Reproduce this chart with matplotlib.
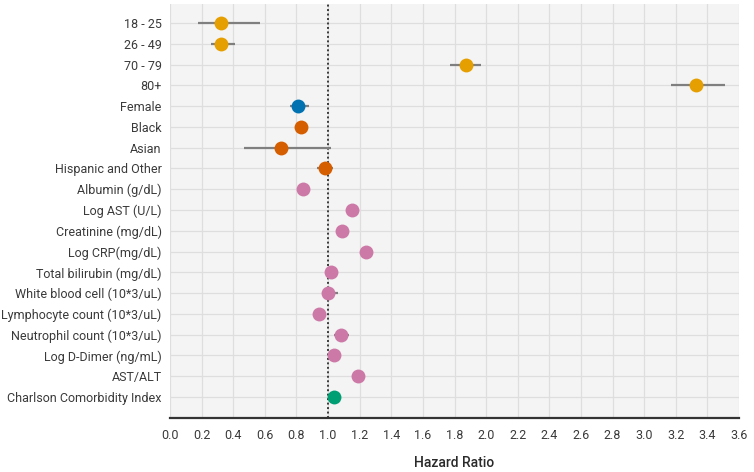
import numpy as np
import matplotlib.pyplot as plt

# Data
labels = ['18 - 25', '26 - 49', '70 - 79', '80+', 'Female', 'Black', 'Asian',
          'Hispanic and Other', 'Albumin (g/dL)', 'Log AST (U/L)',
          'Creatinine (mg/dL)', 'Log CRP(mg/dL)', 'Total bilirubin (mg/dL)',
          'White blood cell (10*3/uL)', 'Lymphocyte count (10*3/uL)',
          'Neutrophil count (10*3/uL)', 'Log D-Dimer (ng/mL)', 'AST/ALT',
          'Charlson Comorbidity Index']
hr = [0.32, 0.32, 1.87, 3.33, 0.81, 0.83, 0.70, 0.98, 0.84, 1.15,
      1.09, 1.24, 1.02, 1.00, 0.94, 1.08, 1.04, 1.19, 1.04]
ci_low = [0.18, 0.26, 1.77, 3.17, 0.76, 0.80, 0.47, 0.93, 0.82, 1.13,
          1.07, 1.22, 0.99, 0.97, 0.92, 1.04, 1.02, 1.17, 1.02]
ci_high = [0.57, 0.41, 1.97, 3.51, 0.88, 0.86, 1.02, 1.03, 0.86, 1.17,
           1.11, 1.26, 1.05, 1.06, 0.96, 1.13, 1.06, 1.21, 1.06]
groups = ['age'] * 4 + ['sex'] + ['race'] * 3 + ['lab'] * 10 + ['comorb']
group_colors = {'age': '#E69F00', 'sex': '#0072B2', 'race': '#D55E00',
                'lab': '#CC79A7', 'comorb': '#009E73'}

plt.rcParams['font.family'] = ['Roboto', 'DejaVu Sans']

fig = plt.figure(figsize=(7.54, 4.72), dpi=100)
ax = fig.add_axes([170 / 754, 1 - 418 / 472, 569 / 754, 414 / 472])
ax.set_facecolor('#F4F4F4')

y = np.arange(len(labels))
ax.hlines(y, ci_low, ci_high, color='#7F7F7F', lw=1.6, zorder=3)
for yi, h, g in zip(y, hr, groups):
    ax.plot(h, yi, 'o', ms=10, color=group_colors[g], mec='none', zorder=4)

ax.axvline(1.0, color='#3A3A3A', ls=(0, (1, 1.3)), lw=1.4, zorder=2)

ax.set_xlim(0, 3.6)
ax.set_ylim(19.01, -0.914)
ax.set_xticks(np.arange(0, 3.61, 0.2))
ax.set_xticklabels(['%.1f' % v for v in np.arange(0, 3.61, 0.2)])
ax.set_yticks(y)
ax.set_yticklabels(labels)
ax.grid(True, color='#DEDEDE', lw=0.9)
ax.set_axisbelow(True)

for s in ['top', 'right', 'left']:
    ax.spines[s].set_visible(False)
ax.spines['bottom'].set_color('#333333')
ax.spines['bottom'].set_linewidth(1.6)
ax.tick_params(axis='both', length=0, labelsize=9, colors='#3A3A3A')
ax.tick_params(axis='x', pad=8)
ax.tick_params(axis='y', pad=6)
ax.set_xlabel('Hazard Ratio', fontsize=10, fontweight='medium',
              color='#2A2A2A', labelpad=10)

fig.savefig('out.png', dpi=100)
